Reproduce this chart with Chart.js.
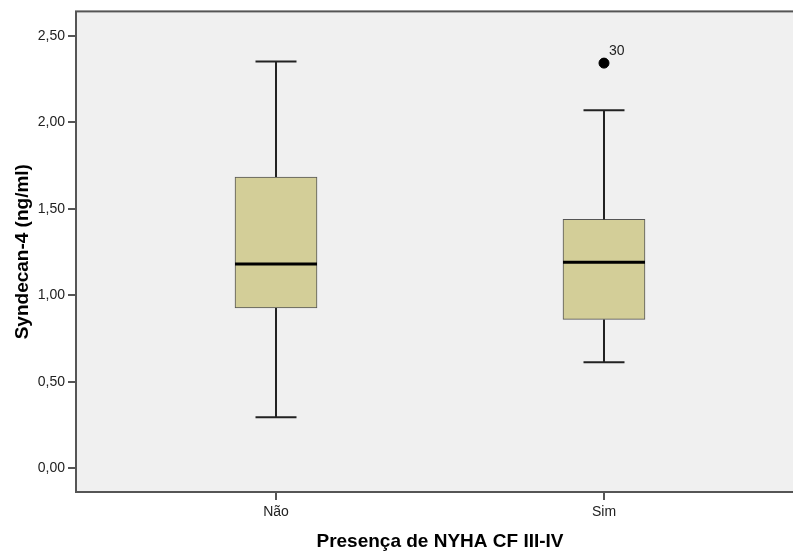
<!DOCTYPE html>
<html>
<head>
<meta charset="utf-8">
<script src="https://cdn.jsdelivr.net/npm/chart.js@4.4.0/dist/chart.umd.min.js"></script>
<style>
  html, body { margin: 0; padding: 0; background: #fff; overflow: hidden; }
  canvas { display: block; }
</style>
</head>
<body>
<canvas id="box" width="810" height="553"></canvas>
<script>
// categorias e estatísticas do boxplot
var categories = ['Não', 'Sim'];
var whiskerLow = [0.295, 0.613];
var q1 = [0.927, 0.861];
var median = [1.181, 1.191];
var q3 = [1.684, 1.439];
var whiskerHigh = [2.353, 2.071];
var outlierCat = [2];
var outlierVal = [2.343];
var outlierLabel = ['30'];
var yTicks = [0, 0.5, 1, 1.5, 2, 2.5];

var FONT = '"Liberation Sans", Arial, sans-serif';

/** fundo e moldura da área do gráfico */
var frame = {
  id: 'frame',
  beforeDraw: function(chart) {
    var a = chart.chartArea, c = chart.ctx;
    c.save();
    c.fillStyle = '#f0f0f0';
    c.fillRect(a.left, a.top, a.right - a.left, a.bottom - a.top);
    c.restore();
  },
  afterDraw: function(chart) {
    var a = chart.chartArea, c = chart.ctx;
    c.save();
    c.strokeStyle = '#555';
    c.lineWidth = 2;
    c.strokeRect(a.left, a.top, a.right - a.left, a.bottom - a.top);
    c.restore();
  }
};

/** bigodes, mediana e rótulo do outlier */
var whiskers = {
  id: 'whiskers',
  afterDatasetsDraw: function(chart) {
    var c = chart.ctx, xs = chart.scales.x, ys = chart.scales.y;
    var bars = chart.getDatasetMeta(0).data;
    c.save();
    categories.forEach(function(cat, i) {
      var x = xs.getPixelForValue(i + 1);
      var w = bars[i].width;
      var cap = w / 4;
      c.strokeStyle = '#222';
      c.lineWidth = 2;
      c.beginPath();
      c.moveTo(x, ys.getPixelForValue(q3[i]));
      c.lineTo(x, ys.getPixelForValue(whiskerHigh[i]));
      c.moveTo(x - cap, ys.getPixelForValue(whiskerHigh[i]));
      c.lineTo(x + cap, ys.getPixelForValue(whiskerHigh[i]));
      c.moveTo(x, ys.getPixelForValue(q1[i]));
      c.lineTo(x, ys.getPixelForValue(whiskerLow[i]));
      c.moveTo(x - cap, ys.getPixelForValue(whiskerLow[i]));
      c.lineTo(x + cap, ys.getPixelForValue(whiskerLow[i]));
      c.stroke();
      // mediana
      c.strokeStyle = '#000';
      c.lineWidth = 3;
      c.beginPath();
      c.moveTo(x - w / 2, ys.getPixelForValue(median[i]));
      c.lineTo(x + w / 2, ys.getPixelForValue(median[i]));
      c.stroke();
    });
    c.fillStyle = '#222';
    c.font = '14px ' + FONT;
    c.textAlign = 'left';
    c.textBaseline = 'alphabetic';
    outlierVal.forEach(function(v, i) {
      var px = xs.getPixelForValue(outlierCat[i]);
      var py = ys.getPixelForValue(v);
      c.fillText(outlierLabel[i], px + 5, py - 8);
    });
    c.restore();
  }
};

new Chart(document.getElementById('box'), {
  type: 'bar',
  data: {
    datasets: [
      {
        label: 'caixa',
        data: categories.map(function(c, i) { return { x: i + 1, y: [q1[i], q3[i]] }; }),
        backgroundColor: '#d3ce98',
        borderColor: '#555',
        borderWidth: 1,
        borderSkipped: false,
        barThickness: 82
      },
      {
        type: 'scatter',
        label: 'outlier',
        data: outlierVal.map(function(v, i) { return { x: outlierCat[i], y: v }; }),
        backgroundColor: '#000',
        borderColor: '#000',
        pointRadius: 5
      }
    ]
  },
  options: {
    responsive: false,
    animation: false,
    layout: { padding: { top: 11, right: 2, left: 0, bottom: 0 } },
    plugins: { legend: { display: false }, tooltip: { enabled: false } },
    scales: {
      x: {
        type: 'linear',
        min: 0.3902,
        max: 2.6098,
        offset: false,
        border: { display: false },
        grid: { offset: false, drawOnChartArea: false, drawTicks: true, tickLength: 8, color: '#555', lineWidth: 2 },
        afterBuildTicks: function(s) { s.ticks = categories.map(function(c, i) { return { value: i + 1 }; }); },
        afterFit: function(s) { s.height = 61; },
        ticks: {
          color: '#222', padding: 4, maxRotation: 0,
          font: { family: FONT, size: 14 },
          callback: function(v) { return categories[v - 1]; }
        },
        title: {
          display: true, text: 'Presença de NYHA CF III-IV', color: '#000',
          font: { family: FONT, size: 19, weight: 'bold' },
          padding: { top: 0, bottom: 0 }
        }
      },
      y: {
        min: -0.137,
        max: 2.642,
        border: { display: false },
        grid: { drawOnChartArea: false, drawTicks: true, tickLength: 8, color: '#555', lineWidth: 2 },
        afterBuildTicks: function(s) { s.ticks = yTicks.map(function(v) { return { value: v }; }); },
        afterFit: function(s) { s.width = 76; },
        ticks: {
          color: '#222', padding: 3,
          font: { family: FONT, size: 14 },
          callback: function(v) { return v.toFixed(2).replace('.', ','); }
        },
        title: {
          display: true, text: 'Syndecan-4 (ng/ml)', color: '#000',
          font: { family: FONT, size: 19, weight: 'bold' },
          padding: { top: 11, bottom: 0 }
        }
      }
    }
  },
  plugins: [frame, whiskers]
});
</script>
</body>
</html>
